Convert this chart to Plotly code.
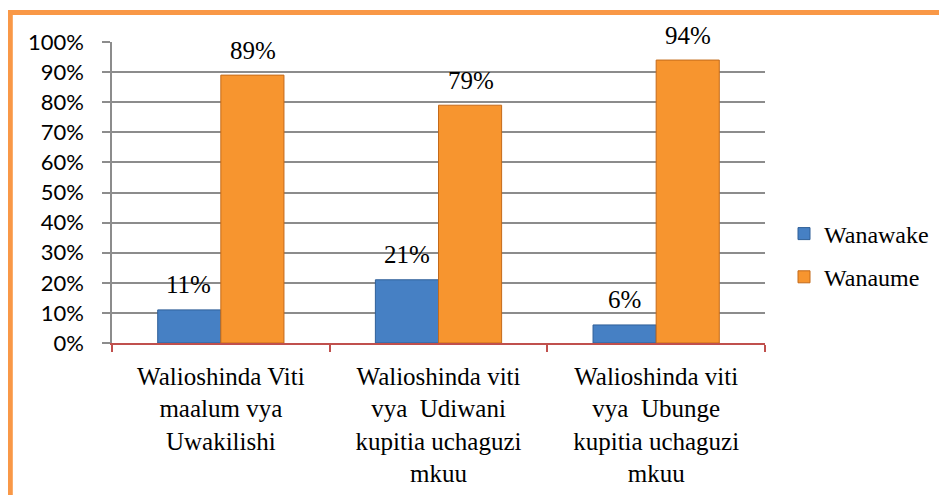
import plotly.graph_objects as go

categories = [
    "Walioshinda Viti<br>maalum vya<br>Uwakilishi",
    "Walioshinda viti<br>vya  Udiwani<br>kupitia uchaguzi<br>mkuu",
    "Walioshinda viti<br>vya  Ubunge<br>kupitia uchaguzi<br>mkuu",
]
wanawake = [11, 21, 6]
wanaume = [89, 79, 94]
series_names = ["Wanawake", "Wanaume"]
tick_vals = [0, 10, 20, 30, 40, 50, 60, 70, 80, 90, 100]
tick_text = [f"{v}%" for v in tick_vals]

blue = "#4680C4"
orange = "#F7952F"
serif = "Liberation Serif, Times New Roman, serif"
sans = "Lato, Carlito, Liberation Sans, sans-serif"

# page has an 8px body margin, so the figure is drawn at (8, 8)
W, H = 939, 487
L, T, PW, PH = 104, 34, 653, 301


def px_x(x):
    return (x - 8 - L) / PW


def px_y(y):
    return (T + PH - (y - 8)) / PH


fig = go.Figure()
fig.add_trace(go.Bar(
    x=categories, y=wanawake, name=series_names[0], legendgroup="a",
    marker=dict(color=blue, line=dict(color="#2F5F98", width=1)),
))
fig.add_trace(go.Bar(
    x=categories, y=wanaume, name=series_names[1], legendgroup="b",
    marker=dict(color=orange, line=dict(color="#C46A1A", width=1)),
))

annotations = []
for vals, shift in ((wanawake, -32), (wanaume, 32)):
    for c, v in zip(categories, vals):
        annotations.append(dict(
            x=c, y=v, xref="x", yref="y", text=f"{v}%", showarrow=False,
            xshift=shift, yshift=25, yanchor="middle",
            font=dict(family=serif, size=25, color="#000000"),
        ))

fig.update_layout(
    width=W, height=H,
    margin=dict(l=L, r=W - L - PW, t=T, b=H - T - PH, pad=0,
                autoexpand=False),
    paper_bgcolor="white", plot_bgcolor="white",
    barmode="group", bargap=0.42, bargroupgap=0,
    showlegend=True,
    legend=dict(
        x=px_x(784), y=px_y(255.5), xanchor="left", yanchor="middle",
        font=dict(family=serif, size=24, color="#000000"),
        tracegroupgap=9, itemwidth=30,
        bgcolor="rgba(0,0,0,0)",
    ),
    annotations=annotations,
    shapes=[
        dict(type="line", xref="paper", yref="paper",
             x0=px_x(10.3), x1=px_x(10.3),
             y0=px_y(12.5), y1=px_y(520),
             line=dict(color="#F99847", width=5)),
        dict(type="line", xref="paper", yref="paper",
             x0=px_x(8), x1=px_x(980),
             y0=px_y(12.5), y1=px_y(12.5),
             line=dict(color="#F99847", width=5)),
    ],
)

fig.update_yaxes(
    range=[0, 100], tickvals=tick_vals, ticktext=tick_text,
    showgrid=True, gridcolor="#8C8C8C", gridwidth=1.5,
    showline=True, linecolor="#8C8C8C", linewidth=1.5,
    ticks="outside", ticklen=8, tickcolor="#8C8C8C", tickwidth=1.5,
    tickfont=dict(family=sans, size=22, color="#000000"),
    ticklabelstandoff=14, zeroline=False, automargin=False,
)
fig.update_xaxes(
    showline=True, linecolor="#C0504D", linewidth=1.5,
    ticks="outside", tickson="boundaries", ticklen=7,
    tickcolor="#C0504D", tickwidth=1.5,
    tickfont=dict(family=serif, size=25, color="#000000"),
    tickangle=0, ticklabelstandoff=10, automargin=False,
)

fig.write_html("out.html")
